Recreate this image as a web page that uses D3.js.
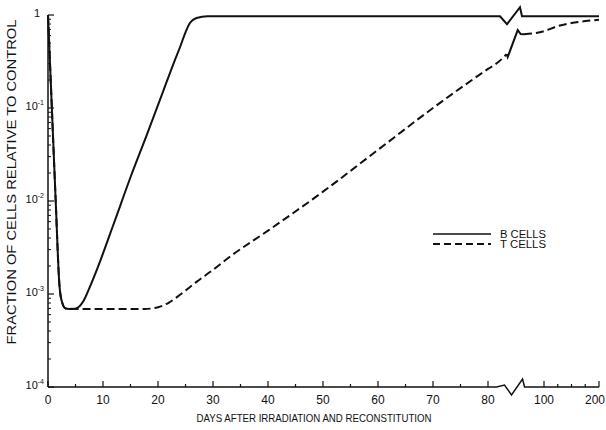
<!DOCTYPE html>
<html>
<head>
<meta charset="utf-8">
<script src="https://cdn.jsdelivr.net/npm/d3@7"></script>
<style>
  body { margin: 0; background: #fff; }
  svg { display: block; }
</style>
</head>
<body>
<svg id="chart"></svg>
<script>
var width = 606, height = 430;

// B cells (solid). days after irradiation / fraction of control
var bDays = [0, 0.7, 1.4, 2.1, 2.6, 3.2, 4.5, 5.5, 6.5, 7.5, 9, 12, 15, 18, 21, 23, 24, 25, 25.8, 27, 29, 40, 60, 82];
var bValues = [1, 0.1, 0.01, 0.0012, 0.0008, 0.0007, 0.00069, 0.00072, 0.00085, 0.00115, 0.0019, 0.0058, 0.018, 0.052, 0.155, 0.32, 0.45, 0.65, 0.82, 0.93, 0.97, 0.97, 0.97, 0.97];
var bDaysLate = [95, 100, 125, 150, 175, 200];
var bValuesLate = [0.97, 0.97, 0.97, 0.97, 0.97, 0.97];

// T cells (dashed)
var tDays = [0, 0.7, 1.4, 2.1, 2.6, 3.2, 5, 10, 15, 17.5, 20, 22, 24, 27, 30, 33, 40, 50, 60, 70, 80, 82, 86];
var tValues = [1, 0.1, 0.01, 0.0012, 0.0008, 0.0007, 0.00069, 0.00069, 0.00069, 0.00069, 0.00072, 0.00081, 0.00098, 0.00135, 0.00182, 0.0025, 0.0048, 0.0126, 0.0355, 0.1, 0.263, 0.316, 0.38];
var tDaysLate = [95, 100, 125, 150, 175, 200];
var tValuesLate = [0.62, 0.67, 0.76, 0.82, 0.86, 0.89];

var xTicks = [0, 10, 20, 30, 40, 50, 60, 70, 80, 100, 200];
var xMinorTicks = [5, 15, 25, 35, 45, 55, 65, 75, 125, 150, 175];
var yTicks = [1, 0.1, 0.01, 0.001, 0.0001];
var yExponents = ["", "-1", "-2", "-3", "-4"];
var legendLabels = ["B CELLS", "T CELLS"];
var breakDay = 88;

var svg = d3.select("#chart")
    .attr("width", width)
    .attr("height", height);

// broken axis: 0-80 linear, gap, then 100-200 squeezed
var x = d3.scaleLinear()
    .domain([0, 82, 95, 100, 200])
    .range([48, 499, 524, 544, 599]);
var y = d3.scaleLog()
    .domain([1e-4, 1])
    .range([387, 15]);

var font = "'Liberation Sans', Arial, sans-serif";
var x0 = x(0), y0 = y(1e-4), bx = x(breakDay);

// x axis line with break
var axisPath = d3.path();
axisPath.moveTo(x0, y0);
axisPath.lineTo(bx - 14, y0);
axisPath.lineTo(bx - 6, y0 - 2);
axisPath.lineTo(bx + 1, y0 + 8);
axisPath.lineTo(bx + 12, y0 - 8);
axisPath.lineTo(bx + 14, y0);
axisPath.lineTo(x(200), y0);
svg.append("path")
    .attr("d", axisPath.toString())
    .attr("fill", "none")
    .attr("stroke", "#111")
    .attr("stroke-width", 1.5);

// y axis line
svg.append("line")
    .attr("x1", x0).attr("x2", x0)
    .attr("y1", y(1)).attr("y2", y0)
    .attr("stroke", "#111")
    .attr("stroke-width", 1.5);

// x ticks (pointing inward)
svg.append("g").selectAll("line.major")
    .data(xTicks)
    .join("line")
    .attr("x1", d => x(d)).attr("x2", d => x(d))
    .attr("y1", y0).attr("y2", y0 - 6)
    .attr("stroke", "#111").attr("stroke-width", 1.2);
svg.append("g").selectAll("line.minor")
    .data(xMinorTicks)
    .join("line")
    .attr("x1", d => x(d)).attr("x2", d => x(d))
    .attr("y1", y0).attr("y2", y0 - 3)
    .attr("stroke", "#111").attr("stroke-width", 1.2);

// last label sits against the right edge
svg.append("g").selectAll("text")
    .data(xTicks)
    .join("text")
    .attr("x", d => d == 200 ? width - 1 : x(d))
    .attr("y", 404)
    .attr("text-anchor", d => d == 200 ? "end" : "middle")
    .attr("font-family", font)
    .attr("font-size", 12)
    .attr("fill", "#111")
    .text(d => d);

// y ticks
var yMinor = y.ticks().filter(d => yTicks.indexOf(d) < 0);
svg.append("g").selectAll("line")
    .data(yTicks)
    .join("line")
    .attr("x1", x0).attr("x2", x0 + 6)
    .attr("y1", d => y(d)).attr("y2", d => y(d))
    .attr("stroke", "#111").attr("stroke-width", 1.2);
svg.append("g").selectAll("line")
    .data(yMinor)
    .join("line")
    .attr("x1", x0).attr("x2", x0 + 3)
    .attr("y1", d => y(d)).attr("y2", d => y(d))
    .attr("stroke", "#111").attr("stroke-width", 1);

var yLabels = svg.append("g").selectAll("text")
    .data(yTicks)
    .join("text")
    .attr("x", (d, i) => i == 0 ? 40 : 44)
    .attr("y", d => y(d) + 2)
    .attr("text-anchor", "end")
    .attr("font-family", font)
    .attr("font-size", 11)
    .attr("fill", "#111");
yLabels.append("tspan").text((d, i) => i == 0 ? "1" : "10");
yLabels.filter((d, i) => i > 0)
    .append("tspan")
    .attr("dy", -5)
    .attr("font-size", 7)
    .text((d, i) => yExponents[i + 1]);

// axis titles
svg.append("text")
    .attr("x", 314)
    .attr("y", 422)
    .attr("text-anchor", "middle")
    .attr("font-family", font)
    .attr("font-size", 11)
    .attr("textLength", 235)
    .attr("lengthAdjust", "spacingAndGlyphs")
    .attr("fill", "#111")
    .text("DAYS  AFTER IRRADIATION AND RECONSTITUTION");

svg.append("text")
    .attr("transform", "translate(16,182) rotate(-90)")
    .attr("text-anchor", "middle")
    .attr("font-family", "'Liberation Sans Narrow', 'Liberation Sans', sans-serif")
    .attr("font-size", 12)
    .attr("textLength", 325)
    .attr("lengthAdjust", "spacingAndGlyphs")
    .attr("fill", "#111")
    .text("FRACTION  OF CELLS  RELATIVE TO CONTROL");

// curves
var line = d3.line()
    .x(d => x(d[0]))
    .y(d => y(d[1]))
    .curve(d3.curveMonotoneX);

function pairs(days, vals) {
    return days.map((d, i) => [d, vals[i]]);
}

var solid = {stroke: "#111", width: 2, dash: null};
var dashed = {stroke: "#111", width: 2, dash: "8,4"};

function drawCurve(data, st) {
    svg.append("path")
        .attr("d", line(data))
        .attr("fill", "none")
        .attr("stroke", st.stroke)
        .attr("stroke-width", st.width)
        .attr("stroke-dasharray", st.dash);
}

drawCurve(pairs(tDays, tValues), dashed);
drawCurve(pairs(tDaysLate, tValuesLate), dashed);
drawCurve(pairs(bDays, bValues), solid);
drawCurve(pairs(bDaysLate, bValuesLate), solid);

// break marks on the curves
function zigzag(from, offsets, to) {
    var p = d3.path();
    p.moveTo(from[0], from[1]);
    offsets.forEach(o => p.lineTo(from[0] + o[0], from[1] + o[1]));
    p.lineTo(to[0], to[1]);
    svg.append("path")
        .attr("d", p.toString())
        .attr("fill", "none")
        .attr("stroke", "#111")
        .attr("stroke-width", 2)
        .attr("stroke-linejoin", "miter");
}

var bEnd = [x(bDays[bDays.length - 1]), y(bValues[bValues.length - 1])];
var bStart = [x(bDaysLate[0]), y(bValuesLate[0])];
zigzag(bEnd, [[1, 0], [8, 8], [21, -9], [23, 0]], bStart);

var tEnd = [x(tDays[tDays.length - 1]), y(tValues[tValues.length - 1])];
var tStart = [x(tDaysLate[0]), y(tValuesLate[0])];
zigzag(tEnd, [[1, 3], [11, -24], [14, -20]], tStart);

// legend
var legend = svg.append("g").selectAll("g")
    .data(legendLabels)
    .join("g")
    .attr("transform", (d, i) => "translate(433," + (234 + i * 10) + ")");
legend.append("line")
    .attr("x1", 0).attr("x2", 58)
    .attr("stroke", "#111")
    .attr("stroke-width", (d, i) => i == 0 ? 1.5 : 2)
    .attr("stroke-dasharray", (d, i) => i == 0 ? null : "7,4");
legend.append("text")
    .attr("x", 67)
    .attr("y", 4)
    .attr("font-family", font)
    .attr("font-size", 10)
    .attr("textLength", 46)
    .attr("lengthAdjust", "spacingAndGlyphs")
    .attr("fill", "#111")
    .text(d => d);
</script>
</body>
</html>
